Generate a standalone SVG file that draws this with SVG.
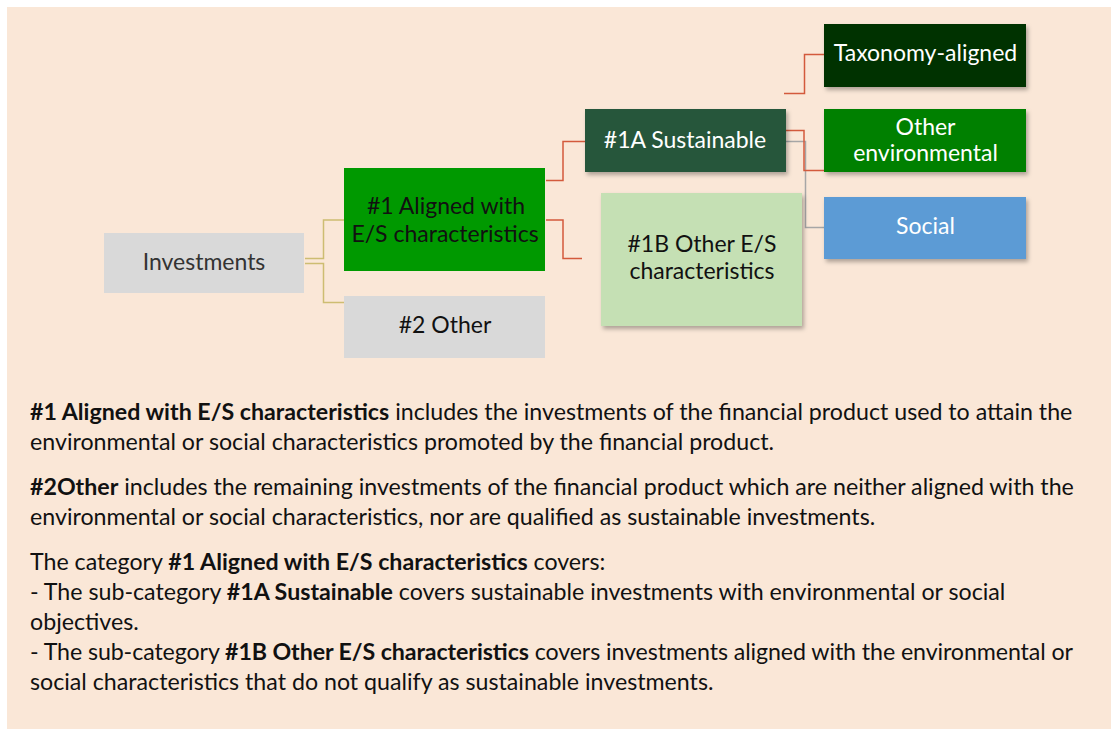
<svg xmlns="http://www.w3.org/2000/svg" width="1111" height="729" viewBox="0 0 1111 729">
<defs>
<filter id="sh" x="-10%" y="-10%" width="130%" height="140%">
<feDropShadow dx="2" dy="3" stdDeviation="2" flood-color="#000" flood-opacity="0.3"/>
</filter>
<style>
.t{font-family:Lato,"Liberation Sans",sans-serif;font-size:23px;text-anchor:middle}
.w{fill:#ffffff}
.k{fill:#111111}
.b{font-family:Lato,"Liberation Sans",sans-serif;font-size:23.2px;fill:#111111}
.bold{font-weight:bold}
.red{stroke:#d35a3c;stroke-width:1.5;fill:none}
.tan{stroke:#cdbd72;stroke-width:1.5;fill:none}
.gry{stroke:#a6a6a6;stroke-width:1.5;fill:none}
</style>
</defs>
<rect x="7" y="7" width="1104" height="722" fill="#fae7d7"/>
<g id="connectors">
<polyline class="tan" points="305,258.5 323.5,258.5 323.5,220 344,220"/>
<polyline class="tan" points="305,263.5 323.5,263.5 323.5,302.5 344,302.5"/>
<polyline class="red" points="546,180.5 563,180.5 563,141.5 585,141.5"/>
<polyline class="red" points="546,220 563,220 563,258.5 582,258.5"/>
<polyline class="red" points="784,93.5 804.5,93.5 804.5,54.5 824,54.5"/>
<polyline class="gry" points="786,141.5 805.5,141.5 805.5,227.5 824,227.5"/>
<polyline class="red" points="786,130.5 804,130.5 804,170.5 824,170.5"/>
</g>
<g id="investments">
<rect x="104" y="233" width="200" height="60" fill="#d9d9d9"/>
<text class="t" x="204" y="270" fill="#333333">Investments</text>
</g>
<g id="aligned">
<rect x="344" y="168" width="201" height="103" fill="#009900"/>
<text class="t k" x="446" y="214">#1 Aligned with</text>
<text class="t k" x="445" y="242">E/S characteristics</text>
</g>
<g id="other2">
<rect x="344" y="296" width="201" height="62" fill="#d9d9d9"/>
<text class="t k" x="445" y="333">#2 Other</text>
</g>
<g id="sustainable">
<rect x="585" y="109" width="201" height="63" fill="#27573a" filter="url(#sh)"/>
<text class="t w" x="685" y="148">#1A Sustainable</text>
</g>
<g id="otherES">
<rect x="601" y="193" width="201" height="133" fill="#c5e0b4" filter="url(#sh)"/>
<text class="t k" x="702" y="252">#1B Other E/S</text>
<text class="t k" x="702" y="279">characteristics</text>
</g>
<g id="taxonomy">
<rect x="824" y="24" width="202" height="63" fill="#013301" filter="url(#sh)"/>
<text class="t w" x="925.5" y="61">Taxonomy-aligned</text>
</g>
<g id="otherenv">
<rect x="824" y="109" width="202" height="63" fill="#008000" filter="url(#sh)"/>
<text class="t w" x="925.5" y="135">Other</text>
<text class="t w" x="925.5" y="161">environmental</text>
</g>
<g id="social">
<rect x="824" y="197" width="202" height="62" fill="#5b9bd5" filter="url(#sh)"/>
<text class="t w" x="925.5" y="234">Social</text>
</g>
<g id="legend">
<text class="b" x="30" y="420"><tspan class="bold">#1 Aligned with E/S characteristics</tspan> includes the investments of the financial product used to attain the</text>
<text class="b" x="30" y="450">environmental or social characteristics promoted by the financial product.</text>
<text class="b" x="30" y="495"><tspan class="bold">#2Other</tspan> includes the remaining investments of the financial product which are neither aligned with the</text>
<text class="b" x="30" y="525">environmental or social characteristics, nor are qualified as sustainable investments.</text>
<text class="b" x="30" y="570">The category <tspan class="bold">#1 Aligned with E/S characteristics</tspan> covers:</text>
<text class="b" x="30" y="600">- The sub-category <tspan class="bold">#1A Sustainable</tspan> covers sustainable investments with environmental or social</text>
<text class="b" x="30" y="630">objectives.</text>
<text class="b" x="30" y="660" textLength="1043" lengthAdjust="spacing">- The sub-category <tspan class="bold">#1B Other E/S characteristics</tspan> covers investments aligned with the environmental or</text>
<text class="b" x="30" y="690">social characteristics that do not qualify as sustainable investments.</text>
</g>
</svg>
